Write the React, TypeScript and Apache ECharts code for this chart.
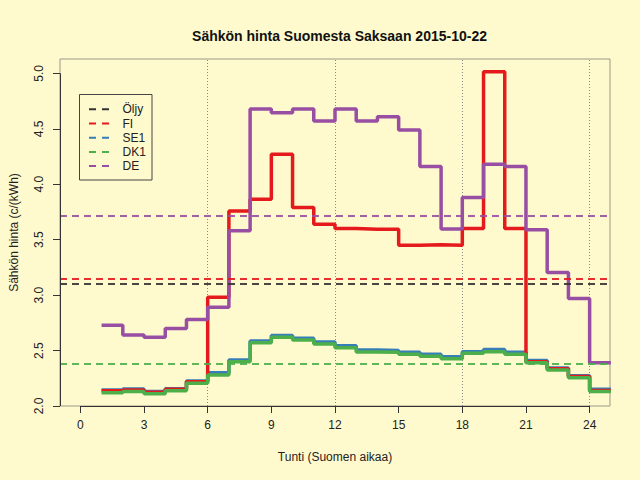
import React, { useEffect, useRef } from "react";
import * as echarts from "echarts";

const HOURS = [1, 2, 3, 4, 5, 6, 7, 8, 9, 10, 11, 12, 13, 14, 15, 16, 17, 18, 19, 20, 21, 22, 23, 24];
const SE1 = [2.145, 2.153, 2.13, 2.156, 2.225, 2.3, 2.415, 2.586, 2.637, 2.61, 2.577, 2.544, 2.505, 2.5, 2.484, 2.466, 2.445, 2.49, 2.51, 2.484, 2.41, 2.343, 2.273, 2.15];
const DK1 = [2.12, 2.13, 2.11, 2.138, 2.205, 2.28, 2.4, 2.57, 2.62, 2.595, 2.56, 2.526, 2.487, 2.485, 2.466, 2.448, 2.427, 2.475, 2.49, 2.466, 2.39, 2.325, 2.255, 2.13];
const FI = [2.138, 2.145, 2.125, 2.15, 2.218, 2.98, 3.76, 3.864, 4.27, 3.79, 3.64, 3.6, 3.595, 3.595, 3.45, 3.455, 3.45, 3.6, 5.015, 3.6, 2.4, 2.335, 2.265, 2.14];
const DE = [2.728, 2.64, 2.62, 2.7, 2.78, 2.89, 3.58, 4.68, 4.645, 4.68, 4.57, 4.68, 4.57, 4.61, 4.49, 4.16, 3.596, 3.88, 4.18, 4.16, 3.59, 3.205, 2.97, 2.39];

const MEAN_OLJY = 3.1;
const MEAN_FI = 3.145;
const MEAN_DK1 = 2.38;
const MEAN_DE = 3.72;

const X_TICKS = [0, 3, 6, 9, 12, 15, 18, 21, 24];
const Y_TICKS = [2.0, 2.5, 3.0, 3.5, 4.0, 4.5, 5.0];
const GUIDE_HOURS = [6, 12, 18, 24];
const LEGEND_NAMES = ["Öljy", "FI", "SE1", "DK1", "DE"];

const TITLE = "Sähkön hinta Suomesta Saksaan 2015-10-22";
const X_NAME = "Tunti (Suomen aikaa)";
const Y_NAME = "Sähkön hinta (c/(kWh)";

const X_MIN = -0.96;
const X_MAX = 24.96;
const Y_MIN = 2;
const Y_MAX = 5.13;

const COLORS: Record<string, string> = {
  "Öljy": "#333333",
  FI: "#E41A1C",
  SE1: "#377EB8",
  DK1: "#4DAF4A",
  DE: "#984EA3",
};

const FONT = "'Liberation Sans', Arial, Helvetica, sans-serif";
const BG = "#FFFACD";

function stepData(values: number[]) {
  const pts = HOURS.map((h, i) => [h, values[i]]);
  pts.push([HOURS[HOURS.length - 1] + 1, values[values.length - 1]]);
  return pts;
}

function meanLine(value: number, color: string) {
  return {
    silent: true,
    symbol: ["none", "none"],
    label: { show: false },
    z: 6,
    lineStyle: { color, type: [7, 5], width: 2, opacity: 0.9 },
    data: [{ yAxis: value }],
  };
}

function stepSeries(name: string, values: number[], mean?: number) {
  const s: any = {
    type: "line",
    name,
    step: "end",
    data: stepData(values),
    showSymbol: false,
    symbol: "none",
    lineStyle: { color: COLORS[name], width: 3.5 },
    itemStyle: { color: COLORS[name] },
    z: 3,
  };
  if (mean !== undefined) s.markLine = meanLine(mean, COLORS[name]);
  return s;
}

export default function App() {
  const ref = useRef<HTMLDivElement>(null);
  useEffect(() => {
    if (!ref.current) return;
    const chart = echarts.init(ref.current, undefined, { renderer: "svg" });

    const legendTop = 109.3;
    const legendStep = 14.2;
    const legendChildren: any[] = [
      {
        type: "rect",
        shape: { x: 79.5, y: 94.5, width: 72.5, height: 85.5 },
        style: { fill: "transparent", stroke: "#444", lineWidth: 1 },
      },
    ];
    LEGEND_NAMES.forEach((n, i) => {
      const y = legendTop + legendStep * i;
      legendChildren.push({
        type: "line",
        shape: { x1: 89, y1: y, x2: 109, y2: y },
        style: { stroke: COLORS[n], lineWidth: 2, lineDash: [7, 6] },
      });
      legendChildren.push({
        type: "text",
        x: 122.5,
        y,
        style: { text: n, fill: "#222", fontSize: 12, fontFamily: FONT, align: "left", verticalAlign: "middle" },
      });
    });

    const option: any = {
      animation: false,
      backgroundColor: BG,
      title: {
        text: TITLE,
        left: 334.5,
        top: 24,
        textAlign: "center",
        textStyle: { fontSize: 14, fontWeight: "bold", color: "#111", fontFamily: FONT },
      },
      grid: {
        left: 59,
        right: 30,
        top: 59,
        bottom: 74,
        show: true,
        borderColor: "#9a9a8a",
        borderWidth: 1,
        backgroundColor: "transparent",
      },
      xAxis: {
        type: "value",
        min: X_MIN,
        max: X_MAX,
        axisLine: { show: false, onZero: false },
        axisTick: { show: true, customValues: X_TICKS, length: 7, lineStyle: { color: "#333" } },
        axisLabel: {
          customValues: X_TICKS,
          margin: 13,
          fontSize: 12,
          color: "#222",
          fontFamily: FONT,
        },
        splitLine: { show: false },
        name: X_NAME,
        nameLocation: "middle",
        nameGap: 45,
        nameTextStyle: { fontSize: 12, color: "#222", fontFamily: FONT },
      },
      yAxis: {
        type: "value",
        min: Y_MIN,
        max: Y_MAX,
        axisLine: { show: false, onZero: false },
        axisTick: { show: true, customValues: Y_TICKS, length: 7, lineStyle: { color: "#333" } },
        axisLabel: {
          customValues: Y_TICKS,
          rotate: 90,
          margin: 15,
          fontSize: 12,
          color: "#222",
          fontFamily: FONT,
          formatter: (v: number) => v.toFixed(1),
        },
        splitLine: { show: false },
        name: Y_NAME,
        nameLocation: "middle",
        nameGap: 40,
        nameRotate: 90,
        nameTextStyle: { fontSize: 12, color: "#222", fontFamily: FONT },
      },
      series: [
        {
          type: "line",
          name: "guides",
          data: [],
          silent: true,
          markLine: {
            silent: true,
            symbol: ["none", "none"],
            label: { show: false },
            z: 1,
            lineStyle: { color: "#888", type: [1, 2], width: 1 },
            data: GUIDE_HOURS.map((h) => ({ xAxis: h })),
          },
        },
        {
          type: "line",
          name: "axes",
          data: [],
          silent: true,
          markLine: {
            silent: true,
            symbol: ["none", "none"],
            label: { show: false },
            z: 7,
            lineStyle: { color: "#333", type: "solid", width: 1 },
            data: [
              [{ coord: [X_MIN, Y_TICKS[0]] }, { coord: [X_MIN, Y_TICKS[Y_TICKS.length - 1]] }],
              [{ coord: [X_TICKS[0], Y_MIN] }, { coord: [X_TICKS[X_TICKS.length - 1], Y_MIN] }],
            ],
          },
        },
        stepSeries("SE1", SE1),
        stepSeries("FI", FI, MEAN_FI),
        stepSeries("DK1", DK1, MEAN_DK1),
        stepSeries("DE", DE, MEAN_DE),
        {
          type: "line",
          name: "Öljy",
          data: [],
          markLine: meanLine(MEAN_OLJY, COLORS["Öljy"]),
        },
      ],
      graphic: [{ type: "group", children: legendChildren }],
    };
    chart.setOption(option);
    return () => chart.dispose();
  }, []);
  return <div ref={ref} style={{ position: "absolute", left: 0, top: 0, width: 640, height: 480 }} />;
}
